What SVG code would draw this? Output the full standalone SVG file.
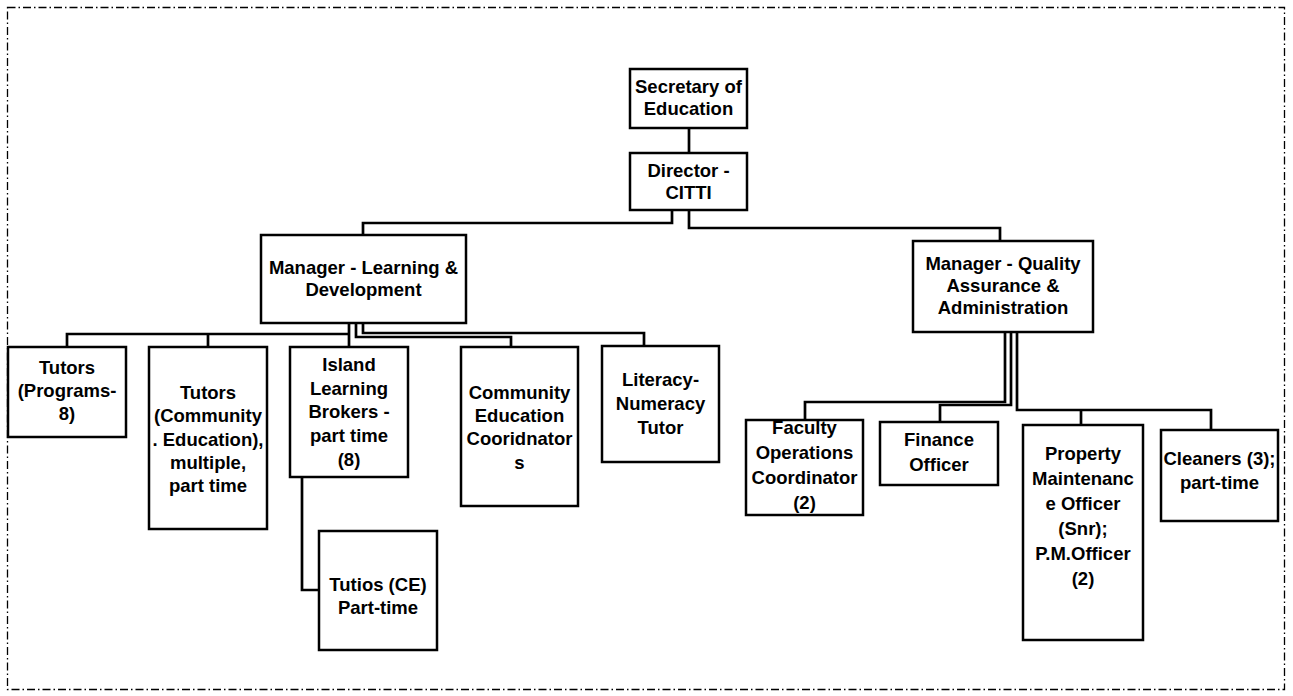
<svg xmlns="http://www.w3.org/2000/svg" width="1293" height="696" viewBox="0 0 1293 696">
<style>
.box{fill:#fff;stroke:#000;stroke-width:2.5}
.t{font-family:"Liberation Sans",Arial,sans-serif;font-weight:bold;font-size:18.5px;fill:#000;text-anchor:middle}
.c{fill:none;stroke:#000;stroke-width:2.7}
.frame{fill:none;stroke:#000;stroke-width:1.3;stroke-dasharray:8 3 1.5 3}
</style>
<rect class="frame" x="7.5" y="7.5" width="1277" height="682"/>
<g id="connectors">
<path class="c" d="M689,128V153"/>
<path class="c" d="M672,210V223H363V235"/>
<path class="c" d="M689,210V228H1000V241"/>
<path class="c" d="M349,323V347"/>
<path class="c" d="M349,334H67V347M208,334V347"/>
<path class="c" d="M356,323V337H511V347"/>
<path class="c" d="M363,323V333H644V346"/>
<path class="c" d="M302,477V590H319"/>
<path class="c" d="M1005,332V402H805V420"/>
<path class="c" d="M1011,332V405H940V422"/>
<path class="c" d="M1017,332V410H1211V430M1081,410V425"/>
</g>
<g id="secretary"><rect class="box" x="630" y="69" width="117" height="59"/><text class="t"><tspan x="688.5" y="93">Secretary of</tspan><tspan x="688.5" y="115">Education</tspan></text></g>
<g id="director"><rect class="box" x="630" y="153" width="117" height="57"/><text class="t"><tspan x="688.5" y="177">Director -</tspan><tspan x="688.5" y="199">CITTI</tspan></text></g>
<g id="mgr-ld"><rect class="box" x="261" y="235" width="205" height="88"/><text class="t"><tspan x="363.5" y="274">Manager - Learning &amp;</tspan><tspan x="363.5" y="296">Development</tspan></text></g>
<g id="mgr-qa"><rect class="box" x="913" y="241" width="180" height="91"/><text class="t"><tspan x="1003" y="270">Manager - Quality</tspan><tspan x="1003" y="292">Assurance &amp;</tspan><tspan x="1003" y="314">Administration</tspan></text></g>
<g id="tutors-programs"><rect class="box" x="8" y="347" width="118" height="90"/><text class="t"><tspan x="67" y="374">Tutors</tspan><tspan x="67" y="397">(Programs-</tspan><tspan x="67" y="420">8)</tspan></text></g>
<g id="tutors-community"><rect class="box" x="149" y="347" width="118" height="182"/><text class="t"><tspan x="208" y="399">Tutors</tspan><tspan x="208" y="422">(Community</tspan><tspan x="208" y="446">. Education),</tspan><tspan x="208" y="469">multiple,</tspan><tspan x="208" y="492">part time</tspan></text></g>
<g id="island"><rect class="box" x="290" y="347" width="118" height="130"/><text class="t"><tspan x="349" y="371">Island</tspan><tspan x="349" y="395">Learning</tspan><tspan x="349" y="418">Brokers -</tspan><tspan x="349" y="442">part time</tspan><tspan x="349" y="466">(8)</tspan></text></g>
<g id="community-ed"><rect class="box" x="461" y="347" width="117" height="159"/><text class="t"><tspan x="519.5" y="399">Community</tspan><tspan x="519.5" y="422">Education</tspan><tspan x="519.5" y="445">Cooridnator</tspan><tspan x="519.5" y="469">s</tspan></text></g>
<g id="literacy"><rect class="box" x="602" y="346" width="117" height="116"/><text class="t"><tspan x="660.5" y="386">Literacy-</tspan><tspan x="660.5" y="410">Numeracy</tspan><tspan x="660.5" y="434">Tutor</tspan></text></g>
<g id="tutios"><rect class="box" x="319" y="531" width="118" height="119"/><text class="t"><tspan x="378" y="591">Tutios (CE)</tspan><tspan x="378" y="614">Part-time</tspan></text></g>
<g id="faculty"><rect class="box" x="746" y="420" width="117" height="95"/><text class="t"><tspan x="804.5" y="434">Faculty</tspan><tspan x="804.5" y="459">Operations</tspan><tspan x="804.5" y="484">Coordinator</tspan><tspan x="804.5" y="509">(2)</tspan></text></g>
<g id="finance"><rect class="box" x="880" y="422" width="118" height="63"/><text class="t"><tspan x="939" y="446">Finance</tspan><tspan x="939" y="471">Officer</tspan></text></g>
<g id="property"><rect class="box" x="1023" y="425" width="120" height="215"/><text class="t"><tspan x="1083" y="460">Property</tspan><tspan x="1083" y="485">Maintenanc</tspan><tspan x="1083" y="510">e Officer</tspan><tspan x="1083" y="535">(Snr);</tspan><tspan x="1083" y="560">P.M.Officer</tspan><tspan x="1083" y="585">(2)</tspan></text></g>
<g id="cleaners"><rect class="box" x="1161" y="430" width="117" height="91"/><text class="t"><tspan x="1219.5" y="465">Cleaners (3);</tspan><tspan x="1219.5" y="489">part-time</tspan></text></g>
</svg>
